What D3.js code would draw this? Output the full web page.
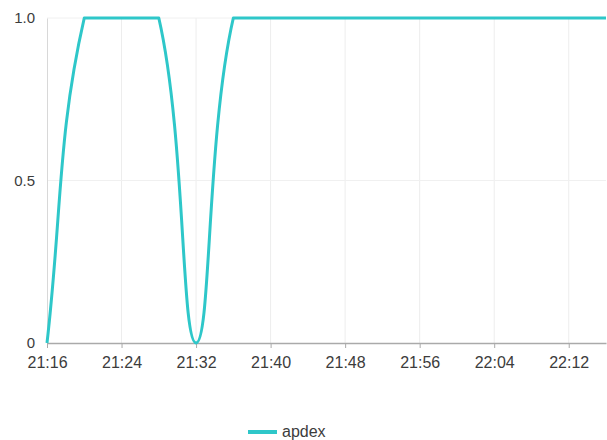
<!DOCTYPE html>
<html>
<head>
<meta charset="utf-8">
<script src="https://cdn.jsdelivr.net/npm/d3@7"></script>
<style>
  body { margin: 0; background: #fff; }
  text { font-family: "Liberation Sans", Arial, sans-serif; }
</style>
</head>
<body>
<div id="chart"></div>
<script>
// apdex samples, every 4 minutes
var times = ['21:16', '21:20', '21:24', '21:28', '21:32', '21:36', '21:40', '21:44',
  '21:48', '21:52', '21:56', '22:00', '22:04', '22:08', '22:12', '22:16'];
var apdex = [0, 1, 1, 1, 0, 1, 1, 1, 1, 1, 1, 1, 1, 1, 1, 1];
var xTickLabels = ['21:16', '21:24', '21:32', '21:40', '21:48', '21:56', '22:04', '22:12'];
var yTicks = [0, 0.5, 1];
var seriesName = 'apdex';

var W = 607, H = 440;
var margin = { left: 47, right: 1, top: 18, bottom: 97 };
var color = '#2ec7c9';
var parse = d3.timeParse('%H:%M');
var fmt = d3.timeFormat('%H:%M');

var svg = d3.select('#chart').append('svg').attr('width', W).attr('height', H);

var x = d3.scaleTime()
  .domain([parse(times[0]), parse(times[times.length - 1])])
  .range([margin.left, W - margin.right]);
var y = d3.scaleLinear().domain([0, 1]).range([H - margin.bottom, margin.top]);

// grid
svg.append('g').selectAll('line').data(xTickLabels.slice(1)).enter().append('line')
  .attr('x1', function (d) { return x(parse(d)); })
  .attr('x2', function (d) { return x(parse(d)); })
  .attr('y1', y(0)).attr('y2', y(1))
  .attr('stroke', '#ededed');
svg.append('g').selectAll('line').data(yTicks.slice(1)).enter().append('line')
  .attr('x1', x.range()[0]).attr('x2', x.range()[1])
  .attr('y1', function (d) { return y(d); })
  .attr('y2', function (d) { return y(d); })
  .attr('stroke', '#f0f0f0');

// y axis
var yAxis = svg.append('g').attr('transform', 'translate(' + margin.left + ',0)')
  .call(d3.axisLeft(y).tickValues(yTicks).tickSize(0).tickPadding(12)
    .tickFormat(function (d) { return d === 0 ? '0' : d3.format('.1f')(d); }));
yAxis.select('.domain').attr('stroke', '#d8d8d8');
yAxis.selectAll('text').attr('fill', '#3c3c3c').style('font-size', '15px');

// x axis
var xAxis = svg.append('g').attr('transform', 'translate(0,' + y(0) + ')')
  .call(d3.axisBottom(x).tickValues(xTickLabels.map(parse)).tickSize(5).tickPadding(9)
    .tickFormat(fmt).tickSizeOuter(0));
xAxis.select('.domain').attr('stroke', '#aaaaaa').attr('stroke-width', 1.5);
xAxis.selectAll('.tick line').attr('stroke', '#aaaaaa');
xAxis.selectAll('text').attr('fill', '#3c3c3c').style('font-size', '16px');

// spline through the points, control points capped to the plot area
function splinePath(pts, tension) {
  var x0 = x.range()[0], x1 = x.range()[1], yTop = y.range()[1], yBot = y.range()[0];
  var cap = function (p) {
    return [Math.max(x0, Math.min(x1, p[0])), Math.max(yTop, Math.min(yBot, p[1]))];
  };
  var cps = pts.map(function (p, i) {
    var prev = pts[Math.max(i - 1, 0)], next = pts[Math.min(i + 1, pts.length - 1)];
    var d01 = Math.hypot(p[0] - prev[0], p[1] - prev[1]);
    var d12 = Math.hypot(next[0] - p[0], next[1] - p[1]);
    var s01 = d01 / (d01 + d12) || 0, s12 = d12 / (d01 + d12) || 0;
    var fa = tension * s01, fb = tension * s12;
    var vx = next[0] - prev[0], vy = next[1] - prev[1];
    return [cap([p[0] - fa * vx, p[1] - fa * vy]), cap([p[0] + fb * vx, p[1] + fb * vy])];
  });
  var path = d3.path();
  path.moveTo(pts[0][0], pts[0][1]);
  for (var i = 1; i < pts.length; i++) {
    var c1 = cps[i - 1][1], c2 = cps[i][0];
    path.bezierCurveTo(c1[0], c1[1], c2[0], c2[1], pts[i][0], pts[i][1]);
  }
  return path.toString();
}

var pts = apdex.map(function (v, i) { return [x(parse(times[i])), y(v)]; });

svg.append('path')
  .attr('d', splinePath(pts, 0.4))
  .attr('fill', 'none')
  .attr('stroke', color)
  .attr('stroke-width', 3)
  .attr('stroke-linejoin', 'round');

// legend
var lg = svg.append('g').attr('transform', 'translate(248,432)');
lg.append('line').attr('x1', 0).attr('x2', 29).attr('y1', 0).attr('y2', 0)
  .attr('stroke', color).attr('stroke-width', 4);
lg.append('text').attr('x', 34).attr('y', 5).attr('fill', '#3c3c3c')
  .style('font-size', '16px').text(seriesName);
</script>
</body>
</html>
